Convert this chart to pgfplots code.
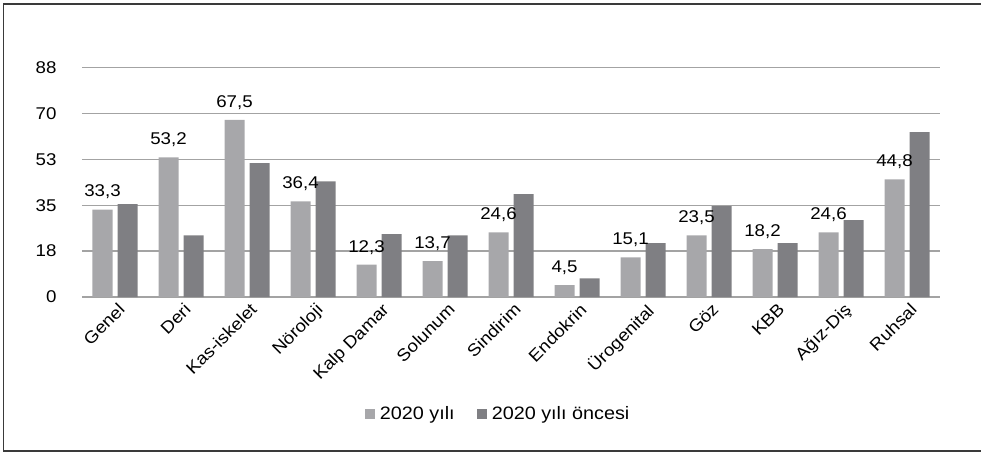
\documentclass[border=0pt]{standalone}
\usepackage{pgfplots}
\pgfplotsset{compat=1.18}
\usepackage{fontspec}
\setmainfont{Liberation Sans}[FakeStretch=1.1]

\definecolor{barlight}{HTML}{A7A7AA}
\definecolor{bardark}{HTML}{7F7F83}
\definecolor{gridgray}{HTML}{A3A3A3}
\definecolor{framegray}{HTML}{3A3A3A}

\newcommand{\chartfont}{\fontsize{17}{20}\selectfont}
\newcommand{\legendfont}{\fontsize{18}{21}\selectfont}

\begin{document}
\begin{tikzpicture}[x=1pt,y=1pt]
\useasboundingbox (-82,-155) rectangle (899,297);
% outer frame (open on the right)
\draw[framegray, line width=1.3pt] (905,293) -- (-78.5,293) -- (-78.5,-154) -- (905,-154);
\begin{axis}[
  at={(0,0)}, anchor=south west,
  scale only axis,
  width=858pt, height=229.6pt,
  xmin=-0.5, xmax=12.5,
  ymin=0, ymax=87.5,
  ybar=5pt, bar width=20pt,
  xtick={0,...,12},
  xticklabels={Genel,Deri,Kas-iskelet,Nöroloji,Kalp Damar,Solunum,Sindirim,Endokrin,Ürogenital,Göz,KBB,Ağız-Diş,Ruhsal},
  xticklabel style={rotate=45, anchor=north east, inner sep=1pt, yshift=-4pt, xshift=-1pt},
  ytick={0,17.5,35,52.5,70,87.5},
  yticklabels={0,18,35,53,70,88},
  yticklabel style={anchor=east, xshift=-22pt},
  major tick length=0pt,
  axis line style={draw=none},
  ymajorgrids,
  grid style={gridgray, line width=1.3pt},
  tick label style={font=\chartfont},
  legend style={at={(0.485,-0.51)}, anchor=center, draw=none, fill=none,
    font=\legendfont,
    /tikz/every odd column/.append style={column sep=3pt},
    /tikz/every even column/.append style={column sep=20pt}},
  legend columns=2,
  legend image code/.code={\fill[#1] (0pt,-5pt) rectangle (10pt,5pt);},
  clip=false,
]
\addplot[fill=barlight, draw=none,
  nodes near coords,
  nodes near coords style={font=\chartfont, yshift=7pt,
    /pgf/number format/.cd, assume math mode=true, use comma, fixed, fixed zerofill, precision=1},
] coordinates {
  (0,33.3) (1,53.2) (2,67.5) (3,36.4) (4,12.3) (5,13.7) (6,24.6)
  (7,4.5) (8,15.1) (9,23.5) (10,18.2) (11,24.6) (12,44.8)
};
\addplot[fill=bardark, draw=none] coordinates {
  (0,35.4) (1,23.5) (2,51.0) (3,44.1) (4,24.0) (5,23.5) (6,39.2)
  (7,7.1) (8,20.5) (9,34.6) (10,20.5) (11,29.3) (12,62.8)
};
\legend{2020 yılı, 2020 yılı öncesi}
\end{axis}
\end{tikzpicture}
\end{document}
